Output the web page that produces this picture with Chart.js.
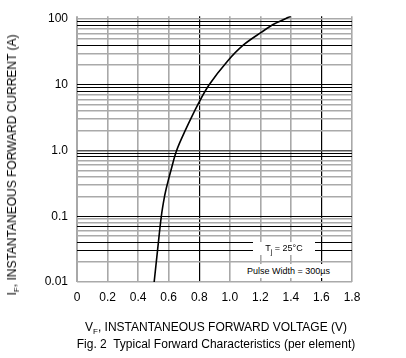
<!DOCTYPE html>
<html><head><meta charset="utf-8">
<script src="https://cdn.jsdelivr.net/npm/chart.js@4.4.0/dist/chart.umd.min.js"></script>
<style>
html,body{margin:0;padding:0;background:#fff;}
#wrap{position:relative;width:406px;height:358px;font-family:"Liberation Sans",Arial,sans-serif;color:#000;}
canvas{position:absolute;left:0;top:0;}
.t{position:absolute;white-space:nowrap;}
sub{font-size:8px;vertical-align:-3px;line-height:0;}
.box{position:absolute;background:#fff;font-size:9px;text-align:center;white-space:nowrap;}
</style>
</head><body>
<div id="wrap">
<canvas id="c" width="406" height="358"></canvas>
<div class="t" id="ytitle" style="left:12px;top:165px;font-size:12px;transform:translate(-50%,-50%) rotate(-90deg);">I<sub>F</sub>, INSTANTANEOUS FORWARD CURRENT (A)</div>
<div class="t" style="left:216px;top:320px;font-size:12px;transform:translateX(-50%);">V<sub>F</sub>, INSTANTANEOUS FORWARD VOLTAGE (V)</div>
<div class="t" style="left:216px;top:337px;font-size:12px;transform:translateX(-50%);">Fig. 2&nbsp; Typical Forward Characteristics (per element)</div>
<div class="box" style="left:253px;top:242px;width:62px;height:13px;line-height:13px;">T<sub style="font-size:7px">j</sub> = 25°C</div>
<div class="box" style="left:242px;top:264px;width:93px;height:14px;line-height:14px;">Pulse Width = 300µs</div>
</div>
<script>
// Data
const voltage = [0.505, 0.527, 0.552, 0.573, 0.590, 0.615, 0.652, 0.708, 0.795, 0.865, 0.986, 1.088, 1.208, 1.296, 1.40];
const current = [0.01, 0.03, 0.1, 0.2, 0.3, 0.5, 1.0, 2.0, 5.2, 10, 23, 40, 63, 85, 110];
const xTickValues = [0, 0.2, 0.4, 0.6, 0.8, 1.0, 1.2, 1.4, 1.6, 1.8];
const xTickLabels = ['0', '0.2', '0.4', '0.6', '0.8', '1.0', '1.2', '1.4', '1.6', '1.8'];
const yDecades = [0.01, 0.1, 1, 10, 100];
const yTickLabels = ['0.01', '0.1', '1.0', '10', '100'];
const mantissas = [1, 2, 3, 4, 5, 6, 7, 8, 9];

// grid line build (style)
const yTicks = [];
yDecades.forEach((d, di) => {
  mantissas.forEach(m => {
    if (di === yDecades.length - 1 && m > 1) return;
    yTicks.push({ value: m * d, m: m, d: d, label: m === 1 ? yTickLabels[di] : '' });
  });
});
const darkMinor = { '0.01': [3, 4, 7], '0.1': [8, 9], '1': [8, 9], '10': [4, 8, 9] };
function yGridColor(t) {
  if (!t) return '#aaaaaa';
  if (t.m === 1) {
    if (t.d === 10 || t.d === 0.1) return '#000000';
    if (t.d === 1) return '#555555';
    return '#aaaaaa';
  }
  const list = darkMinor[String(t.d)] || [];
  return list.includes(t.m) ? '#000000' : '#aaaaaa';
}

const points = voltage.map((v, i) => ({ x: v, y: current[i] }));

new Chart(document.getElementById('c'), {
  type: 'scatter',
  data: { datasets: [{ data: points, showLine: true, borderColor: '#000', borderWidth: 1.6, pointRadius: 0, tension: 0.35, fill: false }] },
  options: {
    responsive: false, animation: false,
    layout: { padding: { left: 0, right: 54, top: 9, bottom: 0 } },
    plugins: { legend: { display: false }, tooltip: { enabled: false } },
    scales: {
      x: {
        type: 'linear', min: 0, max: 1.8,
        afterBuildTicks: s => { s.ticks = xTickValues.map(v => ({ value: v })); },
        afterFit: s => { s.height = 76; },
        border: { display: false },
        grid: {
          drawTicks: false,
          color: c => { const v = c.tick ? c.tick.value : 0; return (Math.abs(v - 0.8) < 1e-6 || Math.abs(v - 1.6) < 1e-6) ? '#000' : '#a8a8a8'; },
          lineWidth: c => { const v = c.tick ? c.tick.value : 0; return (Math.abs(v - 0.8) < 1e-6 || Math.abs(v - 1.6) < 1e-6) ? 1.2 : (v === 0 ? 2 : 1.6); }
        },
        ticks: { padding: 8, color: '#000', font: { family: 'Liberation Sans', size: 12 }, maxRotation: 0, autoSkip: false,
          callback: (v, i) => xTickLabels[i] }
      },
      y: {
        type: 'logarithmic', min: 0.01, max: 110,
        afterBuildTicks: s => { s.ticks = yTicks.map(t => ({ value: t.value })); },
        afterFit: s => { s.width = 77; },
        border: { display: false },
        grid: {
          drawTicks: false,
          color: c => yGridColor(yTicks[c.index]),
          lineWidth: c => { const t = yTicks[c.index]; return (t && yGridColor(t) === '#000000') ? 1.1 : 1.5; }
        },
        ticks: { padding: 9, color: '#000', font: { family: 'Liberation Sans', size: 12 }, autoSkip: false,
          callback: (v, i) => yTicks[i] ? yTicks[i].label : '' }
      }
    }
  }
});
</script>
</body></html>
